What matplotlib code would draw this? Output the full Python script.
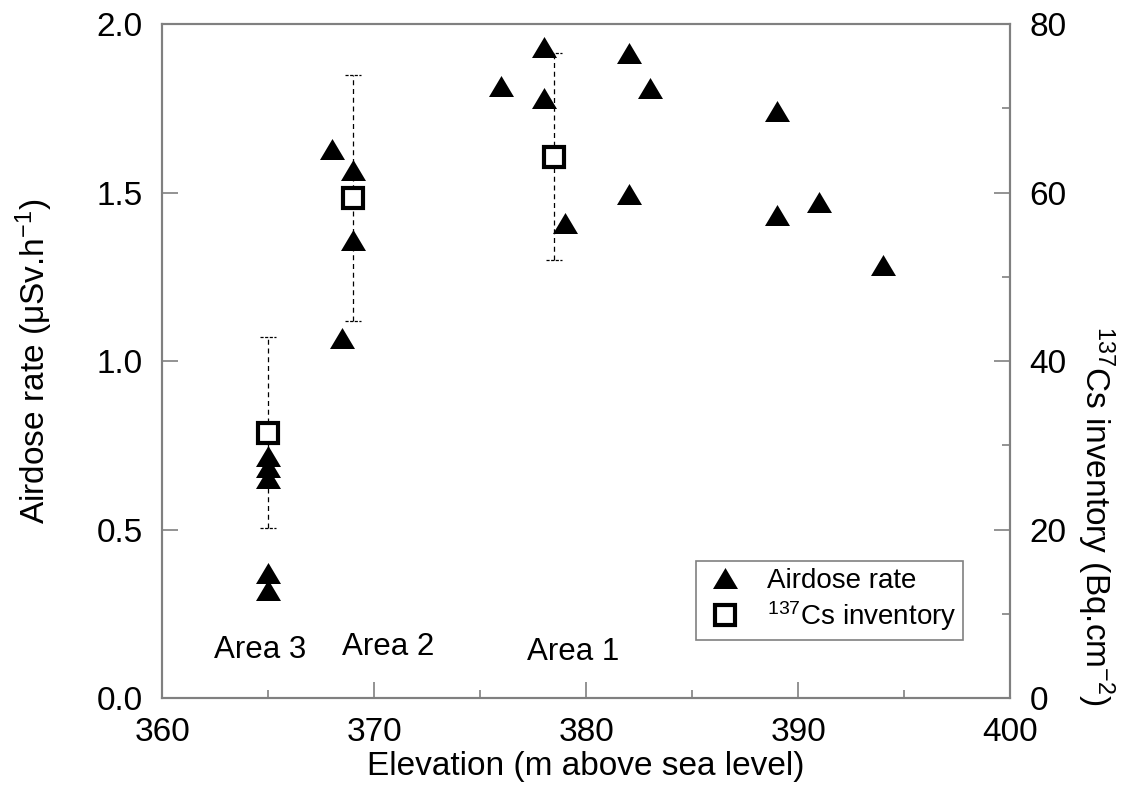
import matplotlib
matplotlib.use("Agg")
import matplotlib.pyplot as plt
from matplotlib.ticker import MultipleLocator, FormatStrFormatter
from matplotlib.lines import Line2D

plt.rcParams['font.family'] = ['Liberation Sans', 'DejaVu Sans']
plt.rcParams['mathtext.fontset'] = 'custom'
plt.rcParams['mathtext.rm'] = 'Liberation Sans'
plt.rcParams['mathtext.it'] = 'Liberation Sans:italic'
plt.rcParams['mathtext.default'] = 'regular'

# Airdose rate (left axis)
air_elev = [365, 365, 365, 365, 365, 368, 369, 369, 368.5,
            378, 376, 378, 379, 382, 383, 382, 389, 389, 391, 394]
air_rate = [0.717, 0.685, 0.654, 0.37, 0.319, 1.628, 1.567, 1.358, 1.067,
            1.932, 1.817, 1.781, 1.41, 1.913, 1.81, 1.496, 1.743, 1.433, 1.471, 1.286]

# 137Cs inventory (right axis)
cs_elev = [365, 369, 378.5]
cs_inv = [31.5, 59.35, 64.26]
cs_err = [11.3, 14.65, 12.25]

area_labels = ['Area 3', 'Area 2', 'Area 1']
area_x = [364.6, 370.65, 379.4]
area_y = [0.142, 0.151, 0.137]

GRAY = '#808080'
fig = plt.figure(figsize=(11.39, 8.06), dpi=100)
ax = fig.add_axes([0.1425, 0.134, 0.8868 - 0.1425, 0.9702 - 0.134])
ax2 = ax.twinx()

tri = [(-1.0, -0.84), (1.0, -0.84), (0.0, 0.84), (-1.0, -0.84)]

ax.scatter(air_elev, air_rate, marker=tri, s=18**2, c='black', zorder=3, linewidths=0)

# error bars: dashed vertical lines and dashed caps
DASH = (0, (4, 3))
CAPDASH = (0, (2.5, 1.2))
capw = 0.38
for x, v, e in zip(cs_elev, cs_inv, cs_err):
    ax2.vlines(x, v - e, v + e, colors='black', linewidth=0.9, linestyles=[DASH], zorder=2)
    ax2.hlines([v - e, v + e], x - capw, x + capw, colors='black', linewidth=0.9,
               linestyles=[CAPDASH], zorder=2)
ax2.plot(cs_elev, cs_inv, linestyle='none', marker='s', markersize=14.5,
         markerfacecolor='white', markeredgecolor='black', markeredgewidth=3, zorder=4)

ax.set_xlim(360, 400)
ax.set_ylim(0, 2.0)
ax2.set_ylim(0, 80)

ax.xaxis.set_major_locator(MultipleLocator(10))
ax.xaxis.set_minor_locator(MultipleLocator(5))
ax.yaxis.set_major_locator(MultipleLocator(0.5))
ax2.yaxis.set_major_locator(MultipleLocator(20))
ax2.yaxis.set_minor_locator(MultipleLocator(10))
ax.xaxis.set_major_formatter(FormatStrFormatter('%d'))
ax.yaxis.set_major_formatter(FormatStrFormatter('%.1f'))

for a in (ax, ax2):
    for s in a.spines.values():
        s.set_color(GRAY)
        s.set_linewidth(1.5)
    a.tick_params(which='major', direction='in', length=11.5, width=1.2, color=GRAY,
                  labelsize=24, pad=14, labelcolor='black')
    a.tick_params(which='minor', direction='in', length=5.5, width=1.2, color=GRAY)
ax.tick_params(axis='y', which='both', left=True, right=False)
ax.tick_params(axis='x', which='both', top=False)

ax.set_xlabel('Elevation (m above sea level)', fontsize=24, labelpad=2)
ax.set_ylabel('Airdose rate (μSv.h$^{-1}$)', fontsize=24)
ax.yaxis.set_label_coords(-0.127, 0.5)
ax2.set_ylabel('$^{137}$Cs inventory (Bq.cm$^{-2}$)', fontsize=24, rotation=270)
ax2.yaxis.set_label_coords(1.125, 0.27)

for t, x, y in zip(area_labels, area_x, area_y):
    ax.text(x, y, t, fontsize=22.5, ha='center', va='center')

h1 = Line2D([], [], linestyle='none', marker=tri, markersize=18, color='black', markeredgewidth=0)
h2 = Line2D([], [], linestyle='none', marker='s', markersize=14.5, markerfacecolor='white',
            markeredgecolor='black', markeredgewidth=3)
leg = ax.legend([h1, h2], ['Airdose rate', '$^{137}$Cs inventory'], loc='lower right',
                bbox_to_anchor=(0.9446, 0.086), borderaxespad=0, fontsize=20, frameon=True,
                fancybox=False, edgecolor=GRAY, framealpha=1, borderpad=0.25,
                handletextpad=0.7, labelspacing=0.2, handlelength=1.6)
leg.get_frame().set_linewidth(1.2)
leg.set_zorder(10)

fig.savefig('out.png', dpi=100)
